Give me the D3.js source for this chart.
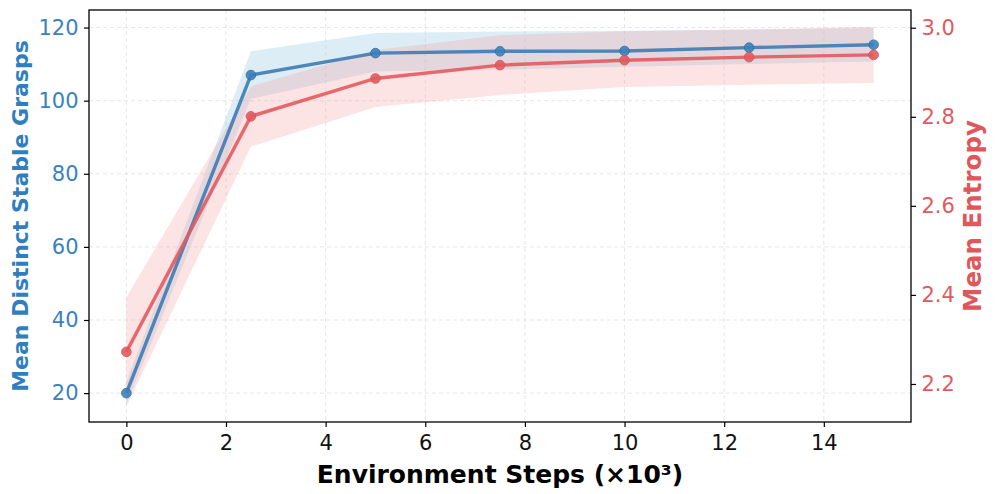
<!DOCTYPE html>
<html><head><meta charset="utf-8">
<script src="https://cdn.jsdelivr.net/npm/d3@7"></script>
<style>body{margin:0;background:#fff}svg{display:block}text{font-family:"DejaVu Sans",sans-serif}</style>
</head><body><svg id="c" width="996" height="494"></svg>
<script>
const steps = [0, 2.5, 5, 7.5, 10, 12.5, 15];
const graspMean = [20.0, 107.0, 113.0, 113.5, 113.6, 114.5, 115.3];
const graspLow  = [17.0, 100.5, 108.0, 108.5, 109.3, 110.0, 110.7];
const graspHigh = [23.0, 113.5, 118.5, 118.9, 119.1, 119.5, 119.9];
const entropyMean = [2.272, 2.801, 2.886, 2.916, 2.927, 2.934, 2.939];
const entropyLow  = [2.149, 2.733, 2.822, 2.849, 2.867, 2.872, 2.876];
const entropyHigh = [2.395, 2.868, 2.950, 2.983, 2.992, 2.996, 3.002];
const xTicks = [0, 2, 4, 6, 8, 10, 12, 14];
const leftTicks = [20, 40, 60, 80, 100, 120];
const rightTicks = [2.2, 2.4, 2.6, 2.8, 3.0];

const BLUE = "#3a82bd", RED = "#e35a5e";
const m = {l: 89, r: 911, t: 10, b: 422};
const svg = d3.select("#c");
const x = d3.scaleLinear().domain([-0.75, 15.75]).range([m.l, m.r]);
const yL = d3.scaleLinear().domain([12.1, 124.8]).range([m.b, m.t]);
const yR = d3.scaleLinear().domain([2.1146, 3.0398]).range([m.b, m.t]);

// grid
const g = svg.append("g");
xTicks.forEach(t => g.append("line").attr("x1", x(t)).attr("x2", x(t)).attr("y1", m.t).attr("y2", m.b)
  .attr("stroke", "#d9d9d9").attr("stroke-width", 0.8).attr("stroke-dasharray", "4,3").attr("opacity", 0.8));
leftTicks.forEach(t => g.append("line").attr("x1", m.l).attr("x2", m.r).attr("y1", yL(t)).attr("y2", yL(t))
  .attr("stroke", "#d9d9d9").attr("stroke-width", 0.8).attr("stroke-dasharray", "4,3").attr("opacity", 0.8));

const idx = d3.range(steps.length);
// bands
svg.append("path").datum(idx)
  .attr("d", d3.area().x(i => x(steps[i])).y0(i => yL(graspLow[i])).y1(i => yL(graspHigh[i])))
  .attr("fill", "#9ecae1").attr("opacity", 0.35);
svg.append("path").datum(idx)
  .attr("d", d3.area().x(i => x(steps[i])).y0(i => yR(entropyLow[i])).y1(i => yR(entropyHigh[i])))
  .attr("fill", "#f4a3a6").attr("opacity", 0.3);

// lines
svg.append("path").datum(idx)
  .attr("d", d3.line().x(i => x(steps[i])).y(i => yL(graspMean[i])))
  .attr("fill", "none").attr("stroke", "#3d7bb3").attr("stroke-width", 3.4).attr("opacity", 0.9);
svg.append("path").datum(idx)
  .attr("d", d3.line().x(i => x(steps[i])).y(i => yR(entropyMean[i])))
  .attr("fill", "none").attr("stroke", RED).attr("stroke-width", 3.4).attr("opacity", 0.9);
svg.selectAll(".mb").data(idx).enter().append("circle")
  .attr("cx", i => x(steps[i])).attr("cy", i => yL(graspMean[i])).attr("r", 4.8)
  .attr("fill", BLUE).attr("stroke", "#3570a5").attr("stroke-width", 1).attr("opacity", 0.9);
svg.selectAll(".mr").data(idx).enter().append("circle")
  .attr("cx", i => x(steps[i])).attr("cy", i => yR(entropyMean[i])).attr("r", 4.8)
  .attr("fill", RED).attr("stroke", "#d0585c").attr("stroke-width", 1).attr("opacity", 0.9);

// frame
svg.append("rect").attr("x", m.l).attr("y", m.t).attr("width", m.r - m.l).attr("height", m.b - m.t)
  .attr("fill", "none").attr("stroke", "#000").attr("stroke-width", 1.3);

// axes
const ax = svg.append("g").attr("transform", `translate(0,${m.b})`)
  .call(d3.axisBottom(x).tickValues(xTicks).tickSize(5).tickPadding(8).tickFormat(d3.format("d")));
ax.select(".domain").remove();
ax.selectAll("text").attr("font-size", 21).attr("fill", "#111");
ax.selectAll("line").attr("stroke", "#000").attr("stroke-width", 1.2);

const al = svg.append("g").attr("transform", `translate(${m.l},0)`)
  .call(d3.axisLeft(yL).tickValues(leftTicks).tickSize(5).tickPadding(5.5).tickFormat(d3.format("d")));
al.select(".domain").remove();
al.selectAll("text").attr("font-size", 21).attr("fill", BLUE);
al.selectAll("line").attr("stroke", "#000").attr("stroke-width", 1.2);

const ar = svg.append("g").attr("transform", `translate(${m.r},0)`)
  .call(d3.axisRight(yR).tickValues(rightTicks).tickSize(5).tickPadding(5.5).tickFormat(d3.format(".1f")));
ar.select(".domain").remove();
ar.selectAll("text").attr("font-size", 21).attr("fill", RED);
ar.selectAll("line").attr("stroke", "#000").attr("stroke-width", 1.2);

// labels
svg.append("text").attr("x", (m.l + m.r) / 2).attr("y", 483).attr("text-anchor", "middle")
  .attr("font-size", 25).attr("font-weight", "bold").attr("fill", "#000").text("Environment Steps (×10³)");
svg.append("text").attr("transform", `translate(27.5,${(m.t + m.b) / 2}) rotate(-90)`).attr("text-anchor", "middle")
  .attr("font-size", 22).attr("font-weight", "bold").attr("fill", "#2f7fbf").text("Mean Distinct Stable Grasps");
svg.append("text").attr("transform", `translate(981,${(m.t + m.b) / 2}) rotate(-90)`).attr("text-anchor", "middle")
  .attr("font-size", 24.5).attr("font-weight", "bold").attr("fill", "#e0575b").text("Mean Entropy");
</script></body></html>
